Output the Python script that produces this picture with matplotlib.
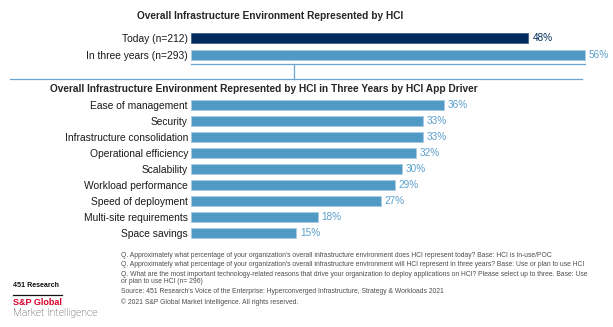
import matplotlib
matplotlib.use("Agg")
import matplotlib.pyplot as plt
from matplotlib.lines import Line2D

plt.rcParams['font.family'] = ['Liberation Sans', 'DejaVu Sans']

### Data
overall_labels = ["Today (n=212)", "In three years (n=293)"]
overall_values = [48, 56]

driver_labels = ["Ease of management", "Security", "Infrastructure consolidation",
                 "Operational efficiency", "Scalability", "Workload performance",
                 "Speed of deployment", "Multi-site requirements", "Space savings"]
driver_values = [36, 33, 33, 32, 30, 29, 27, 18, 15]

footnotes = [
    "Q. Approximately what percentage of your organization's overall infrastructure environment does HCI represent today? Base: HCI is in-use/POC",
    "Q. Approximately what percentage of your organization's overall infrastructure environment will HCI represent in three years? Base: Use or plan to use HCI",
    "Q. What are the most important technology-related reasons that drive your organization to deploy applications on HCI? Please select up to three. Base: Use",
    "or plan to use HCI (n= 296)",
    "Source: 451 Research's Voice of the Enterprise: Hyperconverged Infrastructure, Strategy & Workloads 2021",
    "\u00a9 2021 S&P Global Market Intelligence. All rights reserved.",
]

navy = "#002b5c"
blue = "#519ac6"
blue_text = "#5a9fcc"
line_blue = "#6aa5d3"

W, H = 613, 327
fig = plt.figure(figsize=(W / 100, H / 100), dpi=100)

### pixel -> figure fraction helpers
def fx(px):
    return px / W

def fy(py):
    return 1 - py / H

def add_axes_px(left, top, right, bottom):
    return fig.add_axes([fx(left), fy(bottom), fx(right) - fx(left), (bottom - top) / H])

px_per_pct = 7.03
x0 = 191
xmax = 60

### Top chart
ax1 = add_axes_px(x0, 28.7, x0 + xmax * px_per_pct, 64.3)
bars1 = ax1.barh(range(len(overall_values)), overall_values, height=0.59,
                 color=[navy, blue], edgecolor=["#33557d", "#a9cbe3"], linewidth=0.5)
ax1.set_xlim(0, xmax)
ax1.set_ylim(1.547, -0.547)
ax1.set_yticks(range(len(overall_labels)))
ax1.set_yticklabels(overall_labels, fontsize=7.4, color="#1a1a1a")
ax1.tick_params(axis="y", length=0, pad=2.2)
ax1.set_xticks([])
for s in ["top", "right", "left"]:
    ax1.spines[s].set_visible(False)
ax1.spines["bottom"].set_color(line_blue)
ax1.spines["bottom"].set_linewidth(0.9)
ax1.spines["bottom"].set_bounds(0, max(overall_values))
txt = ax1.bar_label(bars1, labels=[str(v) + "%" for v in overall_values], padding=2.8, fontsize=7.2)
txt[0].set_color(navy)
txt[1].set_color(blue_text)

fig.text(fx(270), fy(16), "Overall Infrastructure Environment Represented by HCI",
         ha="center", va="center", fontsize=7.3, fontweight="bold", color="#262626")

### Connector lines between the two charts
fig.add_artist(Line2D([fx(294), fx(294)], [fy(64.3), fy(78.7)], transform=fig.transFigure,
                      color=line_blue, linewidth=0.9))
fig.add_artist(Line2D([fx(10), fx(582)], [fy(78.7), fy(78.7)], transform=fig.transFigure,
                      color=line_blue, linewidth=0.9))

### Bottom chart
ax2 = add_axes_px(x0, 97, x0 + xmax * px_per_pct, 241.3)
bars2 = ax2.barh(range(len(driver_values)), driver_values, height=0.6,
                 color=blue, edgecolor="#a9cbe3", linewidth=0.5)
ax2.set_xlim(0, xmax)
ax2.set_ylim(len(driver_values) - 0.5, -0.5)
ax2.set_yticks(range(len(driver_labels)))
ax2.set_yticklabels(driver_labels, fontsize=7.4, color="#1a1a1a")
ax2.tick_params(axis="y", length=0, pad=2.2)
ax2.set_xticks([])
for s in ax2.spines.values():
    s.set_visible(False)
ax2.bar_label(bars2, labels=[str(v) + "%" for v in driver_values], padding=2.8,
              fontsize=7.2, color=blue_text)

fig.text(fx(263.5), fy(89), "Overall Infrastructure Environment Represented by HCI in Three Years by HCI App Driver",
         ha="center", va="center", fontsize=7.3, fontweight="bold", color="#262626")

### Footnotes
foot_y = [255.7, 265, 274.3, 281.7, 291.7, 302.3]
for ypos, note in zip(foot_y, footnotes):
    fig.text(fx(121), fy(ypos), note, ha="left", va="center",
             fontsize=4.85, color="#4d4d4d")

### Logo block
fig.text(fx(13), fy(285.7), "451 Research", ha="left", va="center", fontsize=5.1,
         color="#111111", fontweight="semibold")
fig.add_artist(Line2D([fx(13), fx(62)], [fy(295.3), fy(295.3)], transform=fig.transFigure,
                      color="#111111", linewidth=0.9))
fig.text(fx(13), fy(302.7), "S&P Global", ha="left", va="center", fontsize=6.5,
         color="#d6002a", fontweight="bold")
fig.text(fx(13), fy(313.3), "Market Intelligence", ha="left", va="center", fontsize=7.5,
         color="#333333", family=["Roboto", "Liberation Sans"], fontweight="light")

fig.savefig("out.png", dpi=100)
